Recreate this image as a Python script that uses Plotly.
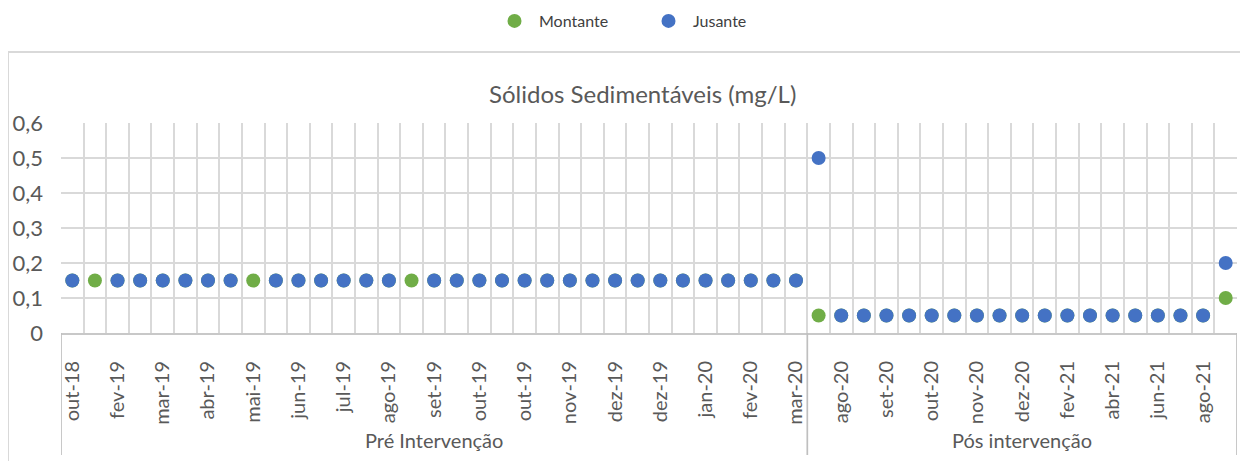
import plotly.graph_objects as go

# ---- data ----
categories = [
    "out-18", "dez-18", "fev-19", "fev-19", "mar-19", "mar-19", "abr-19", "abr-19",
    "mai-19", "mai-19", "jun-19", "jun-19", "jul-19", "jul-19", "ago-19", "ago-19",
    "set-19", "set-19", "out-19", "out-19", "out-19", "nov-19", "nov-19", "nov-19",
    "dez-19", "dez-19", "dez-19", "jan-20", "jan-20", "jan-20", "fev-20", "fev-20",
    "mar-20",
    "jul-20", "ago-20", "ago-20", "set-20", "set-20", "out-20", "out-20", "nov-20",
    "nov-20", "dez-20", "jan-21", "fev-21", "mar-21", "abr-21", "mai-21", "jun-21",
    "jul-21", "ago-21", "set-21",
]
groups = ["Pré Intervenção", "Pós intervenção"]
group_sizes = [33, 19]

montante = [0.15] * 33 + [0.05] * 18 + [0.1]
jusante = ([0.15, None, 0.15, 0.15, 0.15, 0.15, 0.15, 0.15, None, 0.15, 0.15,
            0.15, 0.15, 0.15, 0.15, None, 0.15, 0.15, 0.15, 0.15, 0.15, 0.15,
            0.15, 0.15, 0.15, 0.15, 0.15, 0.15, 0.15, 0.15, 0.15, 0.15, 0.15]
           + [0.5] + [0.05] * 17 + [0.2])

y_ticks = [0, 0.1, 0.2, 0.3, 0.4, 0.5, 0.6]
y_ticktext = ["0", "0,1", "0,2", "0,3", "0,4", "0,5", "0,6"]

title = "Sólidos Sedimentáveis (mg/L)"

# ---- styling ----
OFF = 8  # page body margin offset
W, H = 1248 - OFF, 461 - OFF
L, T = 61 - OFF, 123 - OFF
R = W - (1237 - OFF)
B = H - (333 - OFF)
pw, ph = W - L - R, H - T - B
FONT = "Lato"
GRAY = "#595959"
GRID = "#D9D9D9"

x = list(range(len(categories)))

fig = go.Figure()
fig.add_trace(go.Scatter(x=x, y=montante, mode="markers", name="Montante",
                         marker=dict(color="#70AD47", size=14)))
fig.add_trace(go.Scatter(x=x, y=jusante, mode="markers", name="Jusante",
                         marker=dict(color="#4472C4", size=14)))

n = len(categories)
fig.update_xaxes(
    range=[-0.5, n - 0.5],
    tickmode="array",
    tickvals=x[::2],
    ticktext=[c + "\u00a0" for c in categories[::2]],
    tickangle=-90,
    tickfont=dict(family=FONT, size=20, color=GRAY),
    showgrid=False,
    ticks="outside", ticklen=13, tickcolor="rgba(0,0,0,0)",
    minor=dict(tick0=-0.5, dtick=1, showgrid=True, gridcolor=GRID, gridwidth=1.7, ticks=""),
    showline=True, linecolor="#C8C8C8", linewidth=1.7,
    zeroline=False,
    automargin=False,
)
fig.update_yaxes(
    range=[0, 0.6],
    tickmode="array",
    tickvals=y_ticks,
    ticktext=y_ticktext,
    tickfont=dict(family=FONT, size=22, color=GRAY),
    showgrid=True, gridcolor=GRID, gridwidth=1.7,
    zeroline=False,
    showline=False,
    ticks="",
    ticklabelstandoff=17,
    automargin=False,
)

def py(ry):
    """reference pixel y -> paper y"""
    return (H - B - (ry - OFF)) / ph

def pxp(rx):
    """reference pixel x -> paper x"""
    return (rx - OFF - L) / pw

shapes = []
# outer chart border
shapes.append(dict(type="rect", xref="paper", yref="paper",
                   x0=pxp(8), x1=pxp(1290), y0=py(490), y1=py(52),
                   line=dict(color="#D9D9D9", width=2), fillcolor="rgba(0,0,0,0)", layer="below"))
# group divider lines
bounds = [-0.5]
for s in group_sizes:
    bounds.append(bounds[-1] + s)
for b in bounds:
    shapes.append(dict(type="line", xref="x", yref="paper", x0=b, x1=b,
                       y0=0, y1=py(455), line=dict(color="#BFBFBF", width=1.7)))
annotations = []
for g, a, b in zip(groups, bounds[:-1], bounds[1:]):
    annotations.append(dict(text=g, xref="x", yref="paper", x=(a + b) / 2, y=py(440),
                            showarrow=False, font=dict(family=FONT, size=20, color=GRAY),
                            yanchor="middle"))
annotations.append(dict(text=title, xref="paper", yref="paper", x=pxp(642), y=py(93),
                        showarrow=False, font=dict(family=FONT, size=24, color=GRAY),
                        yanchor="middle"))

fig.update_layout(
    width=W, height=H,
    margin=dict(l=L, r=R, t=T, b=B),
    plot_bgcolor="white", paper_bgcolor="white",
    shapes=shapes, annotations=annotations,
    legend=dict(orientation="h", xref="container", yref="container",
                x=(490 - OFF) / W, y=1 - (21 - OFF) / H, xanchor="left", yanchor="middle",
                font=dict(family=FONT, size=16, color="#404040"),
                itemwidth=39, entrywidth=100, traceorder="normal"),
    showlegend=True,
)

fig.write_html("out.html")
